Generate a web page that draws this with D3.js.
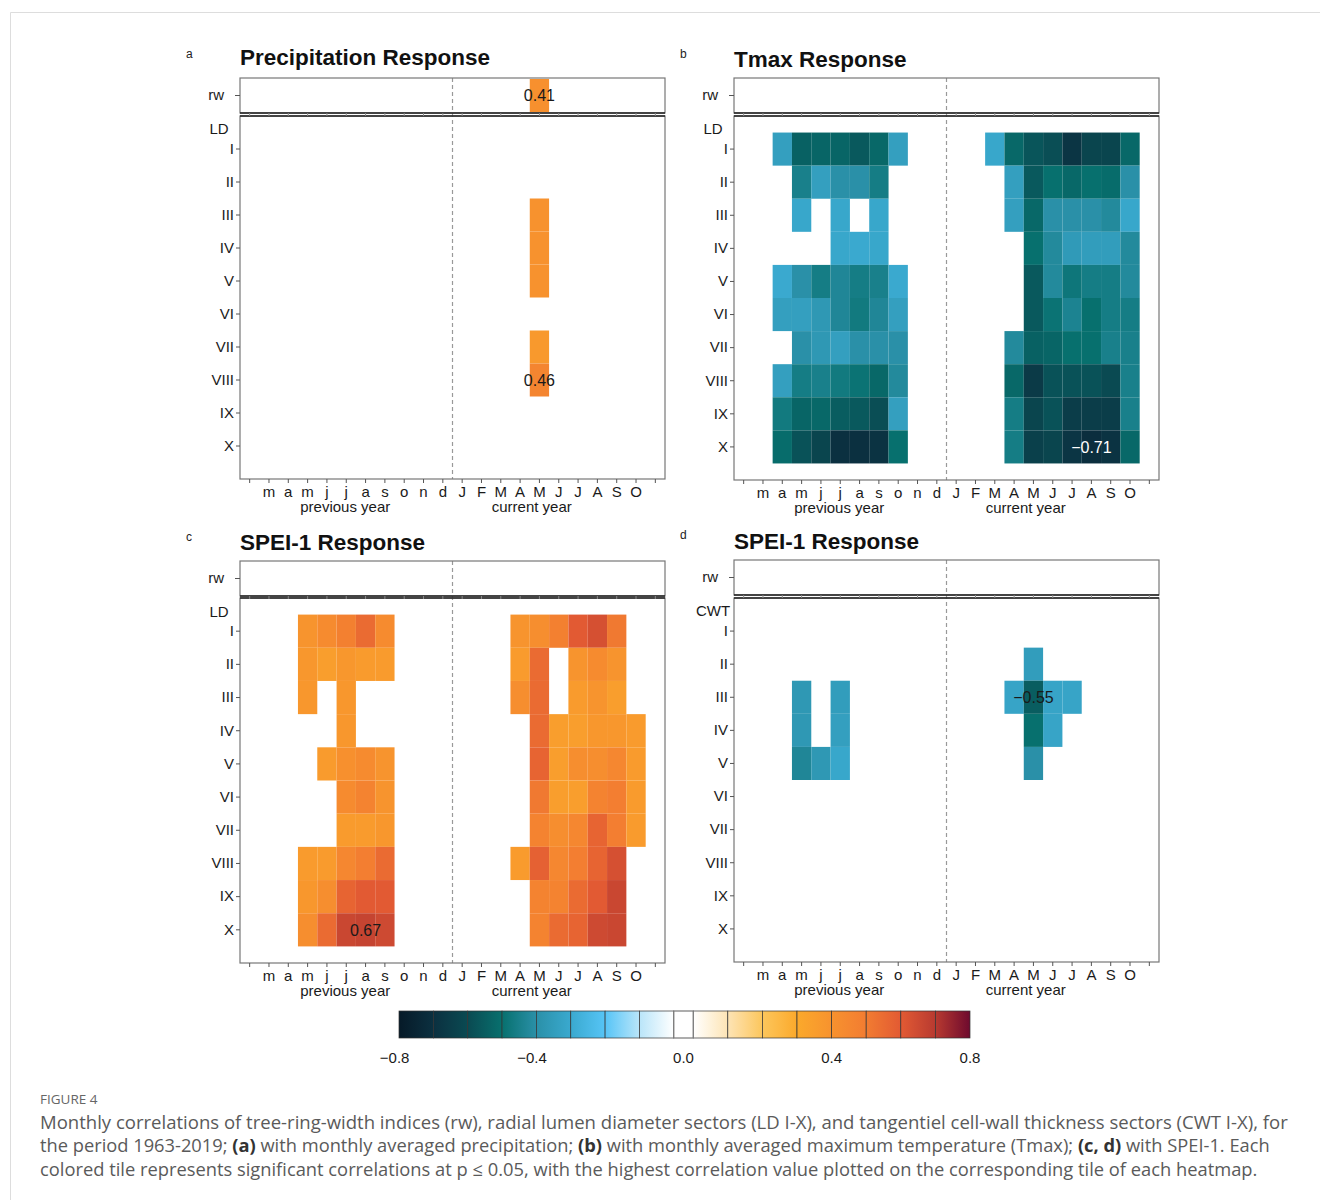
<!DOCTYPE html>
<html>
<head>
<meta charset="utf-8">
<script src="https://cdn.jsdelivr.net/npm/d3@7"></script>
<style>
  body { margin: 0; background: #fff; }
  svg text { font-family: "Liberation Sans", Arial, sans-serif; }
</style>
</head>
<body>
<svg id="fig" width="1320" height="1200"></svg>
<script>
// x positions: first and last are unlabeled padding ticks
const monthKeys = ["pFeb", "pMar", "pApr", "pMay", "pJun", "pJul", "pAug", "pSep", "pOct", "pNov", "pDec",
  "Jan", "Feb", "Mar", "Apr", "May", "Jun", "Jul", "Aug", "Sep", "Oct", "Nov"];
const monthLabels = ["", "m", "a", "m", "j", "j", "a", "s", "o", "n", "d",
  "J", "F", "M", "A", "M", "J", "J", "A", "S", "O", ""];
const sectors = ["I", "II", "III", "IV", "V", "VI", "VII", "VIII", "IX", "X"];

// (a) precipitation
const precCols = ["May"];
const precRW = [0.41];
const precLD = [
  [null], [null], [0.40], [0.40], [0.40], [null], [0.37], [0.46], [null], [null]
];

// (b) Tmax
const tmaxCols = ["pApr", "pMay", "pJun", "pJul", "pAug", "pSep", "pOct",
  "Mar", "Apr", "May", "Jun", "Jul", "Aug", "Sep", "Oct"];
const tmaxRW = [null, null, null, null, null, null, null, null, null, null, null, null, null, null, null];
const tmaxLD = [
  [-0.34, -0.54, -0.53, -0.53, -0.56, -0.52, -0.34, -0.31, -0.52, -0.57, -0.59, -0.68, -0.62, -0.62, -0.52],
  [null, -0.45, -0.34, -0.40, -0.40, -0.46, null, null, -0.34, -0.56, -0.50, -0.52, -0.50, -0.51, -0.40],
  [null, -0.31, null, -0.31, null, -0.31, null, null, -0.34, -0.52, -0.40, -0.40, -0.40, -0.42, -0.31],
  [null, null, null, -0.31, -0.30, -0.31, null, null, null, -0.50, -0.42, -0.36, -0.35, -0.35, -0.42],
  [-0.30, -0.40, -0.46, -0.43, -0.46, -0.45, -0.30, null, null, -0.56, -0.42, -0.48, -0.46, -0.46, -0.42],
  [-0.34, -0.34, -0.37, -0.43, -0.47, -0.43, -0.34, null, null, -0.56, -0.49, -0.44, -0.50, -0.46, -0.46],
  [null, -0.40, -0.37, -0.34, -0.40, -0.40, -0.40, null, -0.42, -0.54, -0.53, -0.50, -0.50, -0.45, -0.45],
  [-0.34, -0.46, -0.45, -0.47, -0.49, -0.52, -0.42, null, -0.52, -0.66, -0.58, -0.58, -0.58, -0.60, -0.45],
  [-0.47, -0.53, -0.52, -0.55, -0.56, -0.59, -0.34, null, -0.46, -0.62, -0.58, -0.65, -0.65, -0.65, -0.45],
  [-0.51, -0.58, -0.62, -0.70, -0.70, -0.69, -0.50, null, -0.46, -0.64, -0.62, -0.68, -0.71, -0.69, -0.52]
];

// (c) SPEI-1 vs LD
const speiLDCols = ["pMay", "pJun", "pJul", "pAug", "pSep",
  "Apr", "May", "Jun", "Jul", "Aug", "Sep", "Oct"];
const speiLDRW = [null, null, null, null, null, null, null, null, null, null, null, null];
const speiLD = [
  [0.39, 0.43, 0.48, 0.55, 0.43, 0.39, 0.42, 0.48, 0.60, 0.63, 0.51, null],
  [0.38, 0.35, 0.38, 0.36, 0.36, 0.36, 0.55, null, 0.39, 0.43, 0.39, null],
  [0.38, null, 0.38, null, null, 0.42, 0.55, null, 0.36, 0.39, 0.35, null],
  [null, null, 0.38, null, null, null, 0.55, 0.35, 0.35, 0.38, 0.38, 0.36],
  [null, 0.36, 0.41, 0.43, 0.39, null, 0.57, 0.35, 0.42, 0.42, 0.45, 0.36],
  [null, null, 0.43, 0.47, 0.39, null, 0.51, 0.35, 0.35, 0.47, 0.49, 0.36],
  [null, null, 0.36, 0.36, 0.38, null, 0.47, 0.42, 0.45, 0.57, 0.49, 0.36],
  [0.36, 0.36, 0.45, 0.49, 0.55, 0.36, 0.58, 0.45, 0.49, 0.57, 0.63, null],
  [0.38, 0.42, 0.57, 0.60, 0.60, null, 0.47, 0.47, 0.55, 0.60, 0.66, null],
  [0.42, 0.55, 0.66, 0.67, 0.65, null, 0.47, 0.55, 0.57, 0.65, 0.66, null]
];

// (d) SPEI-1 vs CWT
const speiCWTCols = ["pMay", "pJun", "pJul", "Apr", "May", "Jun", "Jul"];
const speiCWTRW = [null, null, null, null, null, null, null];
const speiCWT = [
  [null, null, null, null, null, null, null],
  [null, null, null, null, -0.35, null, null],
  [-0.37, null, -0.35, -0.32, -0.55, -0.32, -0.32],
  [-0.37, null, -0.34, null, -0.50, -0.32, null],
  [-0.43, -0.37, -0.31, null, -0.40, null, null],
  [null, null, null, null, null, null, null],
  [null, null, null, null, null, null, null],
  [null, null, null, null, null, null, null],
  [null, null, null, null, null, null, null],
  [null, null, null, null, null, null, null]
];

// colour bar
const legendBreaks = [-0.8, -0.7, -0.6, -0.5, -0.4, -0.3, -0.2, -0.1, 0, 0.1, 0.2, 0.3, 0.4, 0.5, 0.6, 0.7, 0.8];
const legendColors = ["#061a28", "#0b3040", "#0a4a52", "#07706e", "#2a90a8", "#3aa9cf", "#56c4f6", "#b9e5f9", "#ffffff",
  "#fde4b5", "#fcc65c", "#fba92b", "#f7922e", "#f27c31", "#e25a33", "#b83a30", "#6e0a2e"];
const legendTicks = [-0.8, -0.4, 0, 0.4, 0.8];

const captionHead = "FIGURE 4";
const captionLines = [
  [["Monthly correlations of tree-ring-width indices (rw), radial lumen diameter sectors (LD I-X), and tangentiel cell-wall thickness sectors (CWT I-X), for", false]],
  [["the period 1963-2019; ", false], ["(a)", true], [" with monthly averaged precipitation; ", false], ["(b)", true],
   [" with monthly averaged maximum temperature (Tmax); ", false], ["(c, d)", true], [" with SPEI-1. Each", false]],
  [["colored tile represents significant correlations at p \u2264 0.05, with the highest correlation value plotted on the corresponding tile of each heatmap.", false]]
];

const color = d3.scaleLinear().domain(legendBreaks).range(legendColors).interpolate(d3.interpolateRgb).clamp(true);
const fmt = d3.format(".2f");

const svg = d3.select("#fig");

// card frame
svg.append("path")
  .attr("d", "M10.5,1200 V12.5 H1320")
  .attr("fill", "none")
  .attr("stroke", "#dddddd");

const panelWidth = 425;
const panels = [
  { letter: "a", title: "Precipitation Response", header: "LD", cols: precCols, rw: precRW, rows: precLD,
    left: 240, rwTop: 78, rwBottom: 113, mainTop: 116, mainBottom: 479, titleY: 65, letterY: 58 },
  { letter: "b", title: "Tmax Response", header: "LD", cols: tmaxCols, rw: tmaxRW, rows: tmaxLD,
    left: 734, rwTop: 78, rwBottom: 113, mainTop: 116, mainBottom: 480, titleY: 67, letterY: 58 },
  { letter: "c", title: "SPEI-1 Response", header: "LD", cols: speiLDCols, rw: speiLDRW, rows: speiLD,
    left: 240, rwTop: 561, rwBottom: 596, mainTop: 598, mainBottom: 963, titleY: 550, letterY: 541 },
  { letter: "d", title: "SPEI-1 Response", header: "CWT", cols: speiCWTCols, rw: speiCWTRW, rows: speiCWT,
    left: 734, rwTop: 560, rwBottom: 595, mainTop: 598, mainBottom: 962, titleY: 549, letterY: 539 }
];

panels.forEach(drawPanel);
drawLegend();
drawCaption();

function styleAxis(g, size) {
  g.select(".domain").remove();
  g.selectAll(".tick line").attr("stroke", "#555");
  g.selectAll(".tick text")
    .attr("fill", "#1a1a1a")
    .style("font-size", size + "px")
    .style("font-family", "'Liberation Sans', Arial, sans-serif");
}

function drawPanel(p) {
  const g = svg.append("g");
  const right = p.left + panelWidth;

  const x = d3.scaleBand().domain(monthKeys).range([p.left, right]);
  const y = d3.scaleBand().domain(sectors).range([p.mainTop, p.mainBottom]).paddingOuter(0.5);
  const yRw = d3.scaleBand().domain(["rw"]).range([p.rwTop, p.rwBottom]).paddingOuter(0.03);

  // flatten cells
  const rwCells = p.cols.map((c, j) => ({ col: c, v: p.rw[j] })).filter(d => d.v != null);
  const ldCells = [];
  p.rows.forEach((row, i) => row.forEach((v, j) => {
    if (v != null) ldCells.push({ row: sectors[i], col: p.cols[j], v });
  }));

  // tiles
  g.append("g").selectAll("rect")
    .data(rwCells)
    .join("rect")
    .attr("x", d => x(d.col))
    .attr("y", yRw("rw"))
    .attr("width", x.bandwidth())
    .attr("height", yRw.bandwidth())
    .attr("fill", d => color(d.v));

  g.append("g").selectAll("rect")
    .data(ldCells)
    .join("rect")
    .attr("x", d => x(d.col))
    .attr("y", d => y(d.row))
    .attr("width", x.bandwidth())
    .attr("height", y.bandwidth())
    .attr("fill", d => color(d.v));

  // dashed separator between previous and current year
  g.append("line")
    .attr("x1", x("Jan")).attr("x2", x("Jan"))
    .attr("y1", p.rwTop).attr("y2", p.mainBottom)
    .attr("stroke", "#999")
    .attr("stroke-width", 1.2)
    .attr("stroke-dasharray", "4,3");

  // boxes
  g.append("rect")
    .attr("x", p.left).attr("y", p.rwTop)
    .attr("width", panelWidth).attr("height", p.rwBottom - p.rwTop)
    .attr("fill", "none").attr("stroke", "#777").attr("stroke-width", 1.2);
  g.append("rect")
    .attr("x", p.left).attr("y", p.mainTop)
    .attr("width", panelWidth).attr("height", p.mainBottom - p.mainTop)
    .attr("fill", "none").attr("stroke", "#777").attr("stroke-width", 1.2);
  g.append("line")
    .attr("x1", p.left).attr("x2", right)
    .attr("y1", p.rwBottom).attr("y2", p.rwBottom)
    .attr("stroke", "#222").attr("stroke-width", 1.3);
  g.append("line")
    .attr("x1", p.left).attr("x2", right)
    .attr("y1", p.mainTop).attr("y2", p.mainTop)
    .attr("stroke", "#222").attr("stroke-width", 1.3);

  // small ticks under the rw strip
  g.append("g")
    .attr("transform", `translate(0,${p.rwBottom})`)
    .call(d3.axisBottom(x).tickSize(3).tickFormat(""))
    .call(a => styleAxis(a, 15))
    .selectAll(".tick line").attr("stroke", "#888");

  // x axis
  g.append("g")
    .attr("transform", `translate(0,${p.mainBottom})`)
    .call(d3.axisBottom(x).tickSize(4).tickFormat((d, i) => monthLabels[i]))
    .call(a => styleAxis(a, 15));

  g.append("text")
    .attr("x", x("pJul") + x.bandwidth() / 2 - 1)
    .attr("y", p.mainBottom + 33)
    .attr("text-anchor", "middle")
    .style("font-size", "15px")
    .attr("fill", "#1a1a1a")
    .text("previous year");
  g.append("text")
    .attr("x", x("May") + 2)
    .attr("y", p.mainBottom + 33)
    .attr("text-anchor", "middle")
    .style("font-size", "15px")
    .attr("fill", "#1a1a1a")
    .text("current year");

  // y axes
  g.append("g")
    .attr("transform", `translate(${p.left},0)`)
    .call(d3.axisLeft(y).tickSize(4).tickPadding(2))
    .call(a => styleAxis(a, 15));
  g.append("g")
    .attr("transform", `translate(${p.left},0)`)
    .call(d3.axisLeft(yRw).tickSize(5).tickPadding(11))
    .call(a => styleAxis(a, 15));

  g.append("text")
    .attr("x", p.left - 21)
    .attr("y", y("I") + y.bandwidth() / 2 - 20)
    .attr("dy", "0.36em")
    .attr("text-anchor", "middle")
    .style("font-size", "15px")
    .attr("fill", "#1a1a1a")
    .text(p.header);

  // value label on the strongest tile of each strip
  [[rwCells, d => yRw("rw") + yRw.bandwidth() / 2], [ldCells, d => y(d.row) + y.bandwidth() / 2]]
    .forEach(([cells, cy]) => {
      if (!cells.length) return;
      const best = cells.reduce((a, b) => Math.abs(b.v) > Math.abs(a.v) ? b : a);
      g.append("text")
        .attr("x", x(best.col) + x.bandwidth() / 2)
        .attr("y", cy(best))
        .attr("dy", "0.36em")
        .attr("text-anchor", "middle")
        .style("font-size", "16px")
        .attr("fill", best.v < -0.6 ? "#ffffff" : "#1a1a1a")
        .text(fmt(best.v));
    });

  // titles
  g.append("text")
    .attr("x", p.left)
    .attr("y", p.titleY)
    .style("font-size", "22.5px")
    .style("font-weight", "bold")
    .attr("fill", "#111")
    .text(p.title);
  g.append("text")
    .attr("x", p.left - 54)
    .attr("y", p.letterY)
    .style("font-size", "12px")
    .attr("fill", "#222")
    .text(p.letter);
}

function drawLegend() {
  const top = 1011, height = 27;
  const barNeg = d3.scaleLinear().domain([-0.8, 0]).range([399, 673.8]);
  const barPos = d3.scaleLinear().domain([0, 0.8]).range([693.2, 970]);
  const barX = v => v < 0 ? barNeg(v) : v > 0 ? barPos(v) : (barNeg(0) + barPos(0)) / 2;

  const defs = svg.append("defs");
  const bins = d3.pairs(legendBreaks).map(([lo, hi], i) => ({ lo, hi, i }));
  bins.forEach(b => {
    const grad = defs.append("linearGradient").attr("id", "bin" + b.i);
    [0, 0.5, 1].forEach(t => {
      grad.append("stop")
        .attr("offset", t)
        .attr("stop-color", color(b.lo + (b.hi - b.lo) * t));
    });
  });

  const g = svg.append("g");
  g.selectAll("rect.bin")
    .data(bins)
    .join("rect")
    .attr("class", "bin")
    .attr("x", d => d.hi <= 0 ? barNeg(d.lo) : barPos(d.lo))
    .attr("y", top)
    .attr("width", d => d.hi <= 0 ? barNeg(d.hi) - barNeg(d.lo) : barPos(d.hi) - barPos(d.lo))
    .attr("height", height)
    .attr("fill", d => `url(#bin${d.i})`)
    .attr("stroke", "#333")
    .attr("stroke-width", 0.7);

  g.append("rect")
    .attr("x", barNeg(0))
    .attr("y", top)
    .attr("width", barPos(0) - barNeg(0))
    .attr("height", height)
    .attr("fill", color(0))
    .attr("stroke", "#777")
    .attr("stroke-width", 1.2);

  // labels: the number part is centred on its break, the minus sign hangs to the left
  g.selectAll("text")
    .data(legendTicks)
    .join("text")
    .attr("x", d => barX(d))
    .attr("y", top + height + 25)
    .attr("text-anchor", "middle")
    .style("font-size", "15px")
    .attr("fill", "#1a1a1a")
    .text(d => d3.format(".1f")(Math.abs(d)))
    .each(function (d) {
      if (d >= 0) return;
      const w = this.getComputedTextLength();
      d3.select(this)
        .attr("text-anchor", "end")
        .attr("x", barX(d) + w / 2)
        .text(d3.format(".1f")(d));
    });
}

function drawCaption() {
  const left = 40;
  const targets = [1289, 1271, 1258];
  const baselines = [1129, 1152, 1176];

  svg.append("text")
    .attr("x", left)
    .attr("y", 1104)
    .style("font-family", "'Open Sans', sans-serif")
    .style("font-size", "13.5px")
    .attr("fill", "#666")
    .text(captionHead);

  captionLines.forEach((segs, i) => {
    const t = svg.append("text")
      .attr("x", left)
      .attr("y", baselines[i])
      .style("font-family", "'Open Sans', sans-serif")
      .style("font-size", "17px")
      .attr("fill", "#5a5a5a");
    segs.forEach(([s, bold]) => {
      t.append("tspan")
        .attr("font-weight", bold ? "bold" : null)
        .attr("fill", bold ? "#333" : null)
        .text(s);
    });
    const len = t.node().getComputedTextLength();
    t.style("font-size", (17 * (targets[i] - left) / len).toFixed(2) + "px");
  });
}
</script>
</body>
</html>
